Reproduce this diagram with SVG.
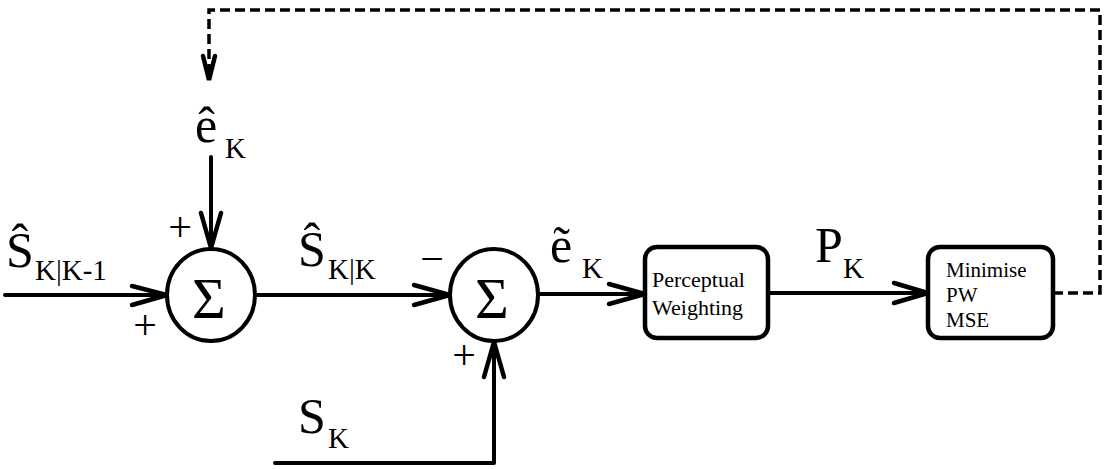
<svg xmlns="http://www.w3.org/2000/svg" width="1104" height="469" viewBox="0 0 1104 469">
<style>
.ln{fill:none;stroke:#000;stroke-width:4;stroke-linecap:round;stroke-linejoin:round}
.dash{fill:none;stroke:#000;stroke-width:3.5;stroke-dasharray:10 5}
.ah{fill:none;stroke:#000;stroke-width:4.5;stroke-linecap:round;stroke-linejoin:miter}
.sum{fill:#fff;stroke:#000;stroke-width:4}
.box{fill:#fff;stroke:#000;stroke-width:4.5}
text{font-family:'Liberation Serif','Times New Roman','DejaVu Serif',serif;fill:#000}
.big{font-size:50px}
.sub{font-size:29px}
.sg{font-size:42px;text-anchor:middle}
.sig{font-size:58px;text-anchor:middle}
.lbl{font-size:21px}
</style>
<rect width="1104" height="469" fill="#fff"/>
<g id="connectors">
  <path class="dash" d="M1053,293 H1100 V10 H209 V72"/>
  <polyline class="ah" points="203,56 209,80 215,56"/>
  <line class="ln" x1="5" y1="295" x2="165" y2="295"/>
  <polyline class="ah" points="132,286 167,295 132,305"/>
  <line class="ln" x1="211" y1="157" x2="211" y2="246"/>
  <polyline class="ah" points="201,213 211,248 221,213"/>
  <line class="ln" x1="256" y1="295" x2="448" y2="295"/>
  <polyline class="ah" points="414,285 450,295 414,305"/>
  <polyline class="ln" points="275,463 494,463 494,344"/>
  <polyline class="ah" points="484,377 494,342 504,377"/>
  <line class="ln" x1="538" y1="294" x2="643" y2="294"/>
  <polyline class="ah" points="609,284 645,294 609,304"/>
  <line class="ln" x1="768" y1="293" x2="926" y2="293"/>
  <polyline class="ah" points="894,283 928,293 894,303"/>
</g>
<g id="sum1">
  <ellipse class="sum" cx="211" cy="295" rx="44" ry="46"/>
  <text class="sig" x="209" y="318">Σ</text>
</g>
<g id="sum2">
  <ellipse class="sum" cx="494" cy="295" rx="44" ry="46"/>
  <text class="sig" x="492" y="318">Σ</text>
</g>
<g id="perceptual">
  <rect class="box" x="645" y="247" width="123" height="91" rx="12"/>
  <text class="lbl" x="652" y="287" style="font-size:22px">Perceptual</text>
  <text class="lbl" x="652" y="315" style="font-size:22px">Weighting</text>
</g>
<g id="minimise">
  <rect class="box" x="928" y="247" width="125" height="91" rx="12"/>
  <text class="lbl" x="946" y="277">Minimise</text>
  <text class="lbl" x="946" y="302">PW</text>
  <text class="lbl" x="946" y="327">MSE</text>
</g>
<g id="labels">
  <text><tspan class="big" x="6" y="267">Ŝ</tspan><tspan class="sub" x="35" y="280">K|K-1</tspan></text>
  <text><tspan class="big" x="298" y="266">Ŝ</tspan><tspan class="sub" x="328" y="279">K|K</tspan></text>
  <text><tspan class="big" x="195" y="142">ê</tspan><tspan class="sub" x="225" y="158">K</tspan></text>
  <text><tspan class="big" x="550" y="262">ẽ</tspan><tspan class="sub" x="582" y="278">K</tspan></text>
  <text><tspan class="big" x="298" y="433">S</tspan><tspan class="sub" x="328" y="448">K</tspan></text>
  <text><tspan class="big" x="815" y="262">P</tspan><tspan class="sub" x="843" y="278">K</tspan></text>
  <text class="sg" x="180" y="241">+</text>
  <text class="sg" x="145" y="339">+</text>
  <text class="sg" x="464" y="369">+</text>
  <text class="sg" x="432" y="273">−</text>
</g>
</svg>
